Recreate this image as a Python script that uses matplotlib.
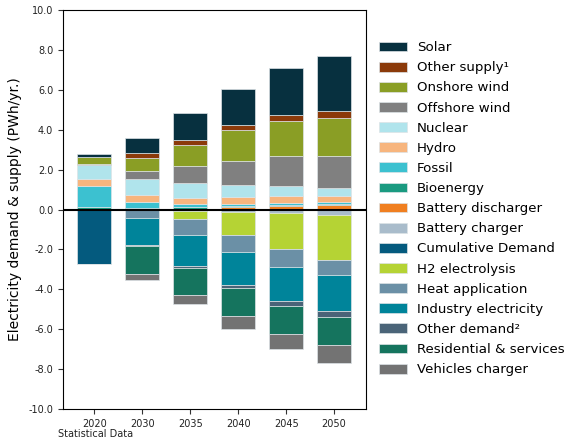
"""Electricity demand & supply stacked bar chart (PWh/yr.)."""
import matplotlib
matplotlib.use("Agg")
import matplotlib.pyplot as plt
import numpy as np
from matplotlib.patches import Patch

years = ["2020", "2030", "2035", "2040", "2045", "2050"]

# supply (positive), stacked from zero upward
battery_discharger = [0.00, 0.00, 0.05, 0.15, 0.20, 0.24]
bioenergy = [0.15, 0.08, 0.07, 0.03, 0.05, 0.05]
fossil = [1.04, 0.32, 0.15, 0.10, 0.10, 0.08]
hydro = [0.33, 0.32, 0.32, 0.37, 0.32, 0.33]
nuclear = [0.70, 0.80, 0.73, 0.60, 0.50, 0.37]
offshore_wind = [0.07, 0.40, 0.84, 1.16, 1.49, 1.63]
onshore_wind = [0.33, 0.67, 1.08, 1.58, 1.77, 1.91]
other_supply = [0.00, 0.23, 0.27, 0.27, 0.32, 0.33]
solar = [0.14, 0.77, 1.32, 1.81, 2.35, 2.77]

# demand (negative), stacked from zero downward
battery_charger = [0.00, 0.00, -0.05, -0.12, -0.20, -0.30]
cumulative_demand = [-2.75, 0.00, 0.00, 0.00, 0.00, 0.00]
h2_electrolysis = [0.00, 0.00, -0.45, -1.17, -1.80, -2.22]
heat_application = [0.00, -0.45, -0.79, -0.85, -0.86, -0.79]
industry_electricity = [0.00, -1.33, -1.52, -1.67, -1.74, -1.79]
other_demand = [0.00, -0.05, -0.12, -0.13, -0.23, -0.30]
residential = [0.00, -1.41, -1.38, -1.42, -1.40, -1.40]
vehicles_charger = [0.00, -0.30, -0.45, -0.65, -0.79, -0.88]

supply = [
    ("Battery discharger", battery_discharger, "#f07f20"),
    ("Bioenergy", bioenergy, "#1a9a80"),
    ("Fossil", fossil, "#3cc1d0"),
    ("Hydro", hydro, "#f7b57e"),
    ("Nuclear", nuclear, "#b0e4ec"),
    ("Offshore wind", offshore_wind, "#808080"),
    ("Onshore wind", onshore_wind, "#8a9e25"),
    ("Other supply\u00b9", other_supply, "#8b3a0a"),
    ("Solar", solar, "#07303f"),
]
demand = [
    ("Battery charger", battery_charger, "#a9bccb"),
    ("Cumulative Demand", cumulative_demand, "#045a7e"),
    ("H2 electrolysis", h2_electrolysis, "#b5d334"),
    ("Heat application", heat_application, "#6b90a6"),
    ("Industry electricity", industry_electricity, "#00849a"),
    ("Other demand\u00b2", other_demand, "#4a6478"),
    ("Residential & services", residential, "#15745e"),
    ("Vehicles charger", vehicles_charger, "#737373"),
]

fig = plt.figure(figsize=(5.67, 4.42), dpi=100)
ax = fig.add_axes([0.111, 0.075, 0.535, 0.902])

x = np.arange(len(years))
w = 0.7
edge = dict(edgecolor="#dde3e6", linewidth=0.5)

base = np.zeros(len(years))
for name, vals, col in supply:
    v = np.array(vals)
    ax.bar(x, v, w, bottom=base, color=col, **edge)
    base += v

base = np.zeros(len(years))
for name, vals, col in demand:
    v = np.array(vals)
    ax.bar(x, v, w, bottom=base, color=col, **edge)
    base += v

ax.axhline(0, color="black", linewidth=1.5)
ax.set_ylim(-10, 10)
ax.set_xlim(-0.65, 5.67)
ax.set_yticks(np.arange(-10, 10.1, 2))
ax.set_yticklabels([f"{t:.1f}" for t in np.arange(-10, 10.1, 2)])
ax.set_xticks(x)
ax.set_xticklabels(years)
ax.tick_params(labelsize=7, colors="#333333", labelcolor="#222222")
ax.set_ylabel("Electricity demand & supply (PWh/yr.)", fontsize=10)
ax.yaxis.set_label_coords(-0.135, 0.5)
fig.text(0.102, 0.012, "Statistical Data", fontsize=7, color="#222222")

handles = [Patch(facecolor=c, edgecolor="#dde3e6", linewidth=0.5, label=n)
           for n, _, c in supply[::-1]]
handles += [Patch(facecolor=c, edgecolor="#dde3e6", linewidth=0.5, label=n)
            for n, _, c in demand]
fig.legend(handles=handles, loc="upper left", bbox_to_anchor=(0.659, 0.919),
           frameon=False, fontsize=9.6, handlelength=2.1, handleheight=0.75,
           labelspacing=0.535, handletextpad=0.75, borderaxespad=0)

fig.savefig("out.png", dpi=100)
